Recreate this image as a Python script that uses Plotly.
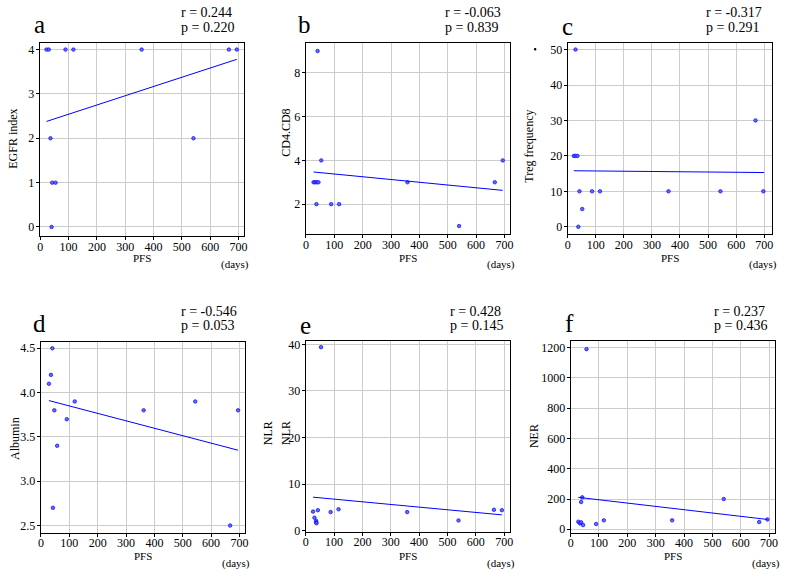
import plotly.graph_objects as go

# ---------------- data ----------------
a_pfs = [22, 30, 89, 117, 358, 666, 694, 36, 541, 42, 54, 40]
a_egfr = [4, 4, 4, 4, 4, 4, 4, 2, 2, 1, 1, 0]
a_fit_x = [22, 694]
a_fit_y = [2.38, 3.78]

b_pfs = [27, 32, 38, 44, 37, 41, 54, 89, 117, 358, 540, 666, 694]
b_cd48 = [3, 3, 3, 3, 2, 9, 4, 2, 2, 3, 1, 3, 4]
b_fit_x = [27, 694]
b_fit_y = [3.47, 2.63]

c_pfs = [28, 22, 28, 35, 42, 87, 115, 359, 544, 697, 52, 38, 669]
c_treg = [50, 20, 20, 20, 10, 10, 10, 10, 10, 10, 5, 0, 30]
c_fit_x = [22, 700]
c_fit_y = [15.8, 15.3]

d_pfs = [40, 35, 28, 47, 119, 91, 57, 42, 362, 544, 695, 667]
d_alb = [4.5, 4.2, 4.1, 3.8, 3.9, 3.7, 3.4, 2.7, 3.8, 3.9, 3.8, 2.5]
d_fit_x = [28, 695]
d_fit_y = [3.91, 3.35]

e_pfs = [54, 26, 31, 37, 37, 38, 43, 88, 116, 358, 539, 664, 692]
e_nlr = [39.4, 4.1, 2.8, 2.1, 1.8, 1.6, 4.4, 4.0, 4.6, 4.0, 2.2, 4.5, 4.4]
e_fit_x = [26, 692]
e_fit_y = [7.2, 3.4]

f_pfs = [56, 41, 37, 27, 33, 37, 44, 90, 117, 358, 540, 665, 694]
f_ner = [1190, 211, 180, 50, 39, 46, 28, 35, 59, 59, 200, 48, 65]
f_fit_x = [27, 694]
f_fit_y = [211, 65]

letters = ["a", "b", "c", "d", "e", "f"]
r_texts = ["r = 0.244", "r = -0.063", "r = -0.317", "r = -0.546", "r = 0.428", "r = 0.237"]
p_texts = ["p = 0.220", "p = 0.839", "p = 0.291", "p = 0.053", "p = 0.145", "p = 0.436"]
y_titles = ["EGFR index", "CD4.CD8", "Treg frequency", "Albumin", "NLR", "NER"]
x_title = "PFS"
x_unit = "(days)"

x_ticks = [0, 100, 200, 300, 400, 500, 600, 700]
y_ticks = [
    [0, 1, 2, 3, 4],
    [2, 4, 6, 8],
    [0, 10, 20, 30, 40, 50],
    [2.5, 3.0, 3.5, 4.0, 4.5],
    [0, 10, 20, 30, 40],
    [0, 200, 400, 600, 800, 1000, 1200],
]

panels = [
    (a_pfs, a_egfr, a_fit_x, a_fit_y),
    (b_pfs, b_cd48, b_fit_x, b_fit_y),
    (c_pfs, c_treg, c_fit_x, c_fit_y),
    (d_pfs, d_alb, d_fit_x, d_fit_y),
    (e_pfs, e_nlr, e_fit_x, e_fit_y),
    (f_pfs, f_ner, f_fit_x, f_fit_y),
]

# ---------------- layout geometry (pixels) ----------------
W, H = 787, 578
frames = [  # x0, x1, ytop, ybottom
    (37, 243, 41, 237),
    (305, 511, 41, 235),
    (569, 775, 41, 235),
    (38, 244, 344, 538),
    (305, 511, 343, 537),
    (572, 778, 343, 538),
]
x_ranges = [[-2, 720], [-1, 720], [0, 728], [-1, 720], [0, 721], [0, 721]]
y_ranges = [[-0.21, 4.14], [0.62, 9.35], [-2.14, 51.75], [2.42, 4.575], [-0.2, 40.8], [-22, 1246]]

FONT = "Liberation Serif"
BLUE = "#0000ff"

def px(x):
    return x / W

def py(y):
    return 1 - y / H

fig = go.Figure()
annotations = []
layout_axes = {}

for i, (xs, ys, fx, fy) in enumerate(panels):
    n = "" if i == 0 else str(i + 1)
    xa, ya = "x" + n, "y" + n
    fig.add_trace(go.Scatter(x=xs, y=ys, mode="markers", xaxis=xa, yaxis=ya,
                             marker=dict(size=3.5, color="rgba(90,90,255,0.9)",
                                         line=dict(width=0.7, color=BLUE)),
                             showlegend=False, cliponaxis=False))
    fig.add_trace(go.Scatter(x=fx, y=fy, mode="lines", xaxis=xa, yaxis=ya,
                             line=dict(color=BLUE, width=1), showlegend=False))
    x0, x1, yt, yb = frames[i]
    common = dict(showline=True, linecolor="black", linewidth=1, mirror=True,
                  ticks="outside", ticklen=3, tickcolor="black",
                  showgrid=True, gridcolor="#cccccc", gridwidth=1, zeroline=False,
                  tickfont=dict(family=FONT, size=12, color="black"), fixedrange=True)
    layout_axes["xaxis" + n] = dict(common, domain=[px(x0), px(x1)], range=x_ranges[i],
                                    tickvals=x_ticks, anchor=ya, ticklabelstandoff=-4)
    yfmt = ".1f" if i == 3 else ""
    layout_axes["yaxis" + n] = dict(common, domain=[py(yb), py(yt)], range=y_ranges[i],
                                    tickvals=y_ticks[i], tickformat=yfmt, anchor=xa,
                                    ticklabelstandoff=-1)

    # panel letter
    lx = [37, 304, 569, 37, 305, 571][i]
    ly = [22, 22, 24, 326, 328, 326][i]
    annotations.append(dict(x=px(lx), y=py(ly), xref="paper", yref="paper", text=letters[i],
                            showarrow=False, font=dict(family=FONT, size=25, color="black"),
                            xanchor="center", yanchor="middle"))
    # r / p
    rx = [177, 443, 706, 177, 448, 714][i]
    ry = 10 if i < 3 else 313
    annotations.append(dict(x=px(rx), y=py(ry), xref="paper", yref="paper", text=r_texts[i],
                            showarrow=False, font=dict(family=FONT, size=14, color="black"),
                            xanchor="left", yanchor="middle"))
    annotations.append(dict(x=px(rx), y=py(ry + 15), xref="paper", yref="paper", text=p_texts[i],
                            showarrow=False, font=dict(family=FONT, size=14, color="black"),
                            xanchor="left", yanchor="middle"))
    # x title + unit
    tty = 259 if i < 3 else 562
    annotations.append(dict(x=px((x0 + x1) / 2), y=py(tty), xref="paper", yref="paper", text=x_title,
                            showarrow=False, font=dict(family=FONT, size=11, color="black"),
                            xanchor="center", yanchor="middle"))
    annotations.append(dict(x=px(x1 + 7), y=py(tty + 7), xref="paper", yref="paper", text=x_unit,
                            showarrow=False, font=dict(family=FONT, size=11, color="black"),
                            xanchor="right", yanchor="middle"))
    # y title
    ytx = [10, 285, 530, 12, 285, 535][i]
    yty = [138, 132, 145, 442, 437, 440][i]
    annotations.append(dict(x=px(ytx), y=py(yty), xref="paper", yref="paper", text=y_titles[i],
                            showarrow=False, textangle=-90,
                            font=dict(family=FONT, size=12, color="black"),
                            xanchor="center", yanchor="middle"))

# duplicated NLR label in panel e
annotations.append(dict(x=px(267), y=py(437), xref="paper", yref="paper", text=y_titles[4],
                        showarrow=False, textangle=-90, font=dict(family=FONT, size=12, color="black"),
                        xanchor="center", yanchor="middle"))

shapes = [dict(type="circle", xref="paper", yref="paper",
               x0=px(535), x1=px(537.5), y0=py(48.2), y1=py(45.8),
               fillcolor="black", line=dict(width=0))]

fig.update_layout(width=W, height=H, margin=dict(l=0, r=0, t=0, b=0),
                  paper_bgcolor="white", plot_bgcolor="white",
                  font=dict(family=FONT, color="black"),
                  annotations=annotations, shapes=shapes, **layout_axes)

fig.write_html("out.html", config={"displayModeBar": False})
